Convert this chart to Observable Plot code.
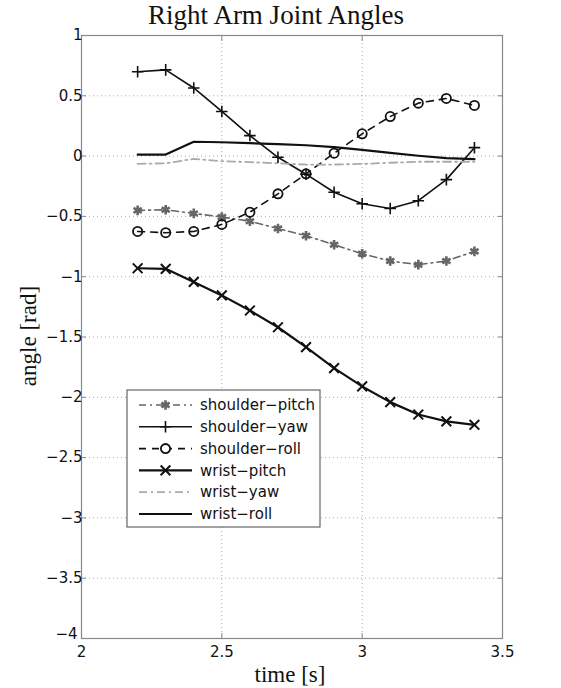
<!DOCTYPE html>
<html><head><meta charset="utf-8">
<script src="https://cdn.jsdelivr.net/npm/d3@7"></script>
<script src="https://cdn.jsdelivr.net/npm/@observablehq/plot@0.6"></script>
<style>body{margin:0;background:#fff}</style>
</head><body><div id="chart"></div>
<script>
const titleText = "Right Arm Joint Angles";
const xLabel = "time [s]";
const yLabel = "angle [rad]";
const times = [2.2, 2.3, 2.4, 2.5, 2.6, 2.7, 2.8, 2.9, 3.0, 3.1, 3.2, 3.3, 3.4];
const xTicks = [2, 2.5, 3, 3.5];
const yTicks = [1, 0.5, 0, -0.5, -1, -1.5, -2, -2.5, -3, -3.5, -4];
const seriesNames = ["shoulder−pitch", "shoulder−yaw", "shoulder−roll", "wrist−pitch", "wrist−yaw", "wrist−roll"];
const shoulderPitch = [-0.45, -0.445, -0.475, -0.505, -0.54, -0.60, -0.66, -0.735, -0.81, -0.87, -0.90, -0.87, -0.79];
const shoulderYaw = [0.70, 0.715, 0.565, 0.37, 0.17, -0.01, -0.15, -0.30, -0.395, -0.435, -0.37, -0.195, 0.07];
const shoulderRoll = [-0.625, -0.635, -0.625, -0.567, -0.465, -0.313, -0.147, 0.024, 0.185, 0.328, 0.439, 0.478, 0.42];
const wristPitch = [-0.93, -0.935, -1.043, -1.155, -1.28, -1.419, -1.584, -1.758, -1.91, -2.04, -2.143, -2.2, -2.228];
const wristYaw = [-0.064, -0.06, -0.023, -0.042, -0.05, -0.06, -0.07, -0.07, -0.065, -0.055, -0.047, -0.047, -0.047];
const wristRoll = [0.013, 0.013, 0.119, 0.115, 0.107, 0.10, 0.09, 0.074, 0.052, 0.027, 0.003, -0.017, -0.025];
const seriesValues = [shoulderPitch, shoulderYaw, shoulderRoll, wristPitch, wristYaw, wristRoll];

const styles = [
  {stroke: "#666", width: 1.6, dash: "7,4,2,4", symbol: "asterisk", r: 4.5, sw: 2.6},
  {stroke: "#111", width: 1.6, dash: null, symbol: "plus", r: 3.8, sw: 1.6},
  {stroke: "#111", width: 1.6, dash: "7,6", symbol: "circle", r: 4.6, sw: 1.8},
  {stroke: "#111", width: 2.2, dash: null, symbol: "times", r: 4.5, sw: 2},
  {stroke: "#aaa", width: 1.8, dash: "8,4,2,4", symbol: null},
  {stroke: "#111", width: 2.2, dash: null, symbol: null}
];

const rows = [];
seriesNames.forEach((name, i) => times.forEach((t, j) => rows.push({series: name, idx: i, time: t, angle: seriesValues[i][j]})));

const fmt = d => (d < 0 ? "−" + Math.abs(d) : String(d));
const yMin = yTicks[yTicks.length - 1];
const yLast = [yMin];
const axisFont = {fontSize: 15, fontFamily: "DejaVu Sans", fill: "#111", label: null};
const marks = [
  Plot.gridX(xTicks, {stroke: "#999", strokeOpacity: 0.8, strokeDasharray: "1,3"}),
  Plot.gridY(yTicks, {stroke: "#999", strokeOpacity: 0.8, strokeDasharray: "1,3"}),
  Plot.frame({stroke: "#888", strokeWidth: 1.2}),
  Plot.axisX(xTicks, {anchor: "bottom", tickSize: -5, tickPadding: 13, tickFormat: fmt, stroke: "#888", ...axisFont}),
  Plot.axisX(xTicks, {anchor: "top", tickSize: -5, text: null, stroke: "#888", label: null}),
  Plot.axisY(yTicks, {anchor: "left", tickSize: -5, tickPadding: 4, tickFormat: d => (d === yMin ? "" : fmt(d)), stroke: "#888", ...axisFont}),
  Plot.axisY(yLast, {anchor: "left", tickSize: 0, tickPadding: 4, tickFormat: fmt, dy: -4, ...axisFont}),
  Plot.axisY(yTicks, {anchor: "right", tickSize: -5, text: null, stroke: "#888", label: null})
];
styles.forEach((s, i) => {
  const data = rows.filter(r => r.idx === i);
  marks.push(Plot.line(data, {x: "time", y: "angle", stroke: s.stroke, strokeWidth: s.width, strokeDasharray: s.dash || undefined}));
});
styles.forEach((s, i) => {
  if (!s.symbol) return;
  const data = rows.filter(r => r.idx === i);
  marks.push(Plot.dot(data, {x: "time", y: "angle", symbol: s.symbol, r: s.r, stroke: s.stroke, strokeWidth: s.sw, fill: "none"}));
});

const plot = Plot.plot({
  width: 561, height: 688,
  marginLeft: 81, marginRight: 59, marginTop: 35, marginBottom: 50,
  x: {domain: [2, 3.5]},
  y: {domain: [-4, 1]},
  style: {background: "#fff", overflow: "visible"},
  marks
});
document.getElementById("chart").appendChild(plot);

const svg = d3.select(plot);
// Title and axis labels
const serif = "Liberation Serif";
svg.append("text").attr("x", 276).attr("y", 15).attr("dy", "0.35em").attr("text-anchor", "middle")
  .attr("font-family", serif).attr("font-size", 27).attr("fill", "#111").text(titleText);
svg.append("text").attr("x", 290).attr("y", 674).attr("dy", "0.35em").attr("text-anchor", "middle")
  .attr("font-family", serif).attr("font-size", 23).attr("fill", "#111").text(xLabel);
svg.append("text").attr("transform", "translate(28,336) rotate(-90)").attr("dy", "0.35em").attr("text-anchor", "middle")
  .attr("font-family", serif).attr("font-size", 23).attr("fill", "#111").text(yLabel);

// Legend
const lg = svg.append("g").attr("class", "legend");
const box = {x: 127, y: 390, w: 193, h: 137};
lg.append("rect").attr("x", box.x).attr("y", box.y).attr("width", box.w).attr("height", box.h)
  .attr("fill", "#fff").attr("stroke", "#666").attr("stroke-width", 1.2);
const symMap = {asterisk: d3.symbolAsterisk, plus: d3.symbolPlus, circle: d3.symbolCircle, times: d3.symbolTimes};
seriesNames.forEach((name, i) => {
  const s = styles[i];
  const y = box.y + 15 + i * 21.8;
  lg.append("line").attr("x1", box.x + 12).attr("x2", box.x + 65).attr("y1", y).attr("y2", y)
    .attr("stroke", s.stroke).attr("stroke-width", s.width).attr("stroke-dasharray", s.dash);
  if (s.symbol) {
    lg.append("path").attr("d", d3.symbol(symMap[s.symbol], Math.PI * s.r * s.r)())
      .attr("transform", `translate(${box.x + 38.5},${y})`)
      .attr("fill", s.symbol === "circle" ? "#fff" : "none").attr("stroke", s.stroke).attr("stroke-width", s.sw);
  }
  lg.append("text").attr("x", box.x + 73).attr("y", y).attr("dy", "0.35em").attr("text-anchor", "start")
    .attr("font-family", "DejaVu Sans").attr("font-size", 15).attr("fill", "#111").text(name);
});
</script></body></html>
